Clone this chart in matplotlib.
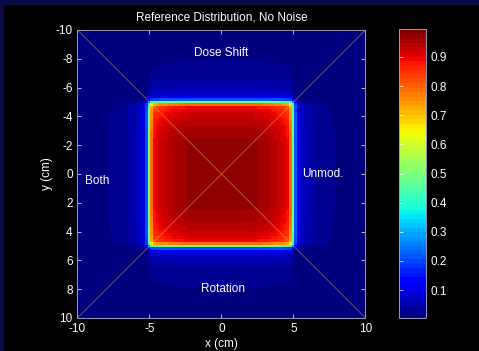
import numpy as np
import matplotlib
matplotlib.use("Agg")
import matplotlib.pyplot as plt
from matplotlib.patches import Rectangle

plt.rcParams["font.family"] = ["Liberation Sans", "DejaVu Sans"]
plt.rcParams["axes.unicode_minus"] = False

# half profile of the dose (x = 0 .. 10 cm, step 0.2 cm)
step_cm = 0.2
half_profile = [
    0.985, 0.985, 0.985, 0.985, 0.985, 0.985, 0.985, 0.985, 0.985, 0.985, 0.985,
    0.984, 0.982, 0.979, 0.976, 0.972, 0.968, 0.963, 0.957, 0.951, 0.944,
    0.935, 0.923, 0.905, 0.80,
    0.50, 0.22, 0.105, 0.075, 0.062, 0.052, 0.045, 0.039, 0.034, 0.030,
    0.027, 0.025, 0.023, 0.021, 0.020, 0.019, 0.018, 0.018, 0.017, 0.017,
    0.016, 0.016, 0.016, 0.015, 0.015, 0.015,
]
background = 0.016
x_ticks = [-10, -5, 0, 5, 10]
y_ticks = [-10, -8, -6, -4, -2, 0, 2, 4, 6, 8, 10]
cbar_ticks = [0.1, 0.2, 0.3, 0.4, 0.5, 0.6, 0.7, 0.8, 0.9]
labels = [("Dose Shift", 0.0, -8.4, "center"),
          ("Unmod.", 5.6, 0.0, "left"),
          ("Both", -9.5, 0.5, "left"),
          ("Rotation", 0.1, 8.0, "center")]

half = np.array(half_profile)
prof = np.concatenate([half[:0:-1], half])
dose = np.maximum(np.outer(prof, prof), background)
ext = 10 + step_cm / 2

fig = plt.figure(figsize=(4.79, 3.51), dpi=100, facecolor="black")
fig.patches.append(Rectangle((0, 1 - 4 / 351), 1, 4 / 351, transform=fig.transFigure,
                             color="#0a0a46", zorder=0))
fig.patches.append(Rectangle((0, 0), 3 / 479, 1, transform=fig.transFigure,
                             color="#0a0a46", zorder=0))

ax = fig.add_axes([77 / 479, 33 / 351, 289 / 479, 288 / 351])
cax = fig.add_axes([399 / 479, 33 / 351, 27 / 479, 289 / 351])

cmap = plt.get_cmap("jet", 64)
im = ax.imshow(dose, cmap=cmap, vmin=0.004, vmax=0.996,
               extent=(-ext, ext, ext, -ext), interpolation="nearest")
ax.set_xlim(-10, 10)
ax.set_ylim(10, -10)

ax.plot([-10, 10], [-10, 10], color=(0.9, 0.8, 0.3), alpha=0.5, lw=0.6)
ax.plot([-10, 10], [10, -10], color=(0.9, 0.8, 0.3), alpha=0.5, lw=0.6)

for txt, tx, ty, ha in labels:
    ax.text(tx, ty, txt, color="white", fontsize=8.5, ha=ha, va="center")

ax.set_title("Reference Distribution, No Noise", color="white", fontsize=8.5, pad=7)
ax.set_xlabel("x (cm)", color="white", fontsize=8.5, labelpad=2)
ax.set_ylabel("y (cm)", color="white", fontsize=8.5, labelpad=2)
ax.set_xticks(x_ticks)
ax.set_yticks(y_ticks)
ax.tick_params(colors="white", direction="in", labelsize=8.5, length=3, width=0.5,
               top=True, right=True)
for tick in ax.get_xticklines() + ax.get_yticklines():
    tick.set_color("#aaaacc")
for sp in ax.spines.values():
    sp.set_color("#9999bb")
    sp.set_linewidth(0.7)

cb = fig.colorbar(im, cax=cax, ticks=cbar_ticks)
cb.ax.set_yticklabels([f"{t:.1f}" for t in cbar_ticks])
cb.ax.tick_params(colors="white", direction="in", labelsize=8.5, length=3, width=0.5,
                  left=True, right=False)
for tick in cb.ax.get_yticklines():
    tick.set_color("#aaaacc")
cb.outline.set_edgecolor("#9999bb")
cb.outline.set_linewidth(0.7)

fig.savefig("out.png", dpi=100, facecolor=fig.get_facecolor())
